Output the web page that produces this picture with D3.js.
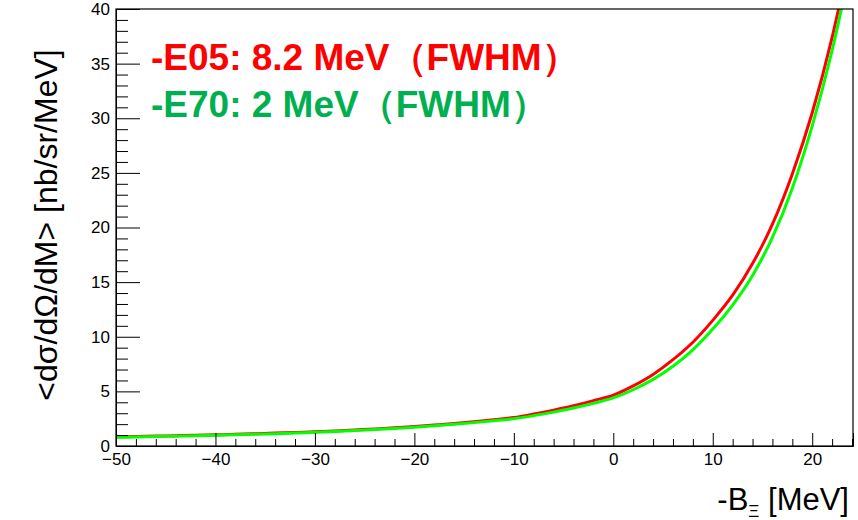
<!DOCTYPE html>
<html>
<head>
<meta charset="utf-8">
<script src="https://cdn.jsdelivr.net/npm/d3@7"></script>
<style>
  html, body { margin: 0; padding: 0; background: #fff; }
  svg { display: block; }
</style>
</head>
<body>
<svg id="chart" width="858" height="520"></svg>
<script>
// ---- data ----
const energies = [-50,-48,-46,-44,-42,-40,-38,-36,-34,-32,-30,-28,-26,-24,-22,-20,-18,-16,-14,-12,-10,-8,-6,-4,-2,0,2,4,6,8,10,12,14,16,18,20,22,24];
const e05Values = [0.84,0.87,0.91,0.94,0.98,1.02,1.07,1.12,1.18,1.24,1.30,1.38,1.47,1.56,1.67,1.78,1.92,2.06,2.22,2.40,2.60,2.92,3.28,3.68,4.15,4.65,5.50,6.55,7.90,9.50,11.50,13.80,16.70,20.30,24.90,30.50,37.40,45.8];
const e70Values = [0.80,0.83,0.87,0.90,0.94,0.98,1.03,1.08,1.13,1.19,1.25,1.33,1.42,1.51,1.61,1.72,1.85,1.99,2.14,2.31,2.50,2.78,3.10,3.48,3.90,4.40,5.15,6.10,7.30,8.80,10.70,12.90,15.60,19.10,23.60,29.30,36.20,44.6];
const xMajorTicks = [-50,-40,-30,-20,-10,0,10,20];
const yMajorTicks = [0,5,10,15,20,25,30,35,40];
const legendLabels = ["-E05: 8.2 MeV（FWHM）", "-E70: 2 MeV（FWHM）"];
const xTitle = "-B";
const xTitleSub = "Ξ";
const xTitleUnit = " [MeV]";
const yTitle = "<dσ/dΩ/dM> [nb/sr/MeV]";

// ---- layout ----
const L = 116, R = 853, T = 9, B = 446;
const svg = d3.select("#chart");
const x = d3.scaleLinear().domain([-50, 24.1]).range([L, R]);
const y = d3.scaleLinear().domain([0, 40]).range([B, T]);

const fontAxis = "'Liberation Sans', Arial, Helvetica, sans-serif";

// clip
svg.append("defs").append("clipPath").attr("id", "plotclip")
  .append("rect").attr("x", L).attr("y", T).attr("width", R - L).attr("height", B - T);

// curves
const line = d3.line().x((d, i) => x(energies[i])).y(d => y(d)).curve(d3.curveMonotoneX);
const g = svg.append("g").attr("clip-path", "url(#plotclip)");
g.append("path").datum(e05Values).attr("d", line)
  .attr("fill", "none").attr("stroke", "#ff0000").attr("stroke-width", 3);
g.append("path").datum(e70Values).attr("d", line)
  .attr("fill", "none").attr("stroke", "#00ff00").attr("stroke-width", 3);

// frame
svg.append("rect").attr("x", L).attr("y", T).attr("width", R - L).attr("height", B - T)
  .attr("fill", "none").attr("stroke", "#000").attr("stroke-width", 1.2);

// x axis minor
const xMinor = d3.range(-48, 24.1, 2).filter(v => v % 10 !== 0);
svg.append("g").attr("transform", `translate(0,${B})`)
  .call(d3.axisBottom(x).tickValues(xMinor).tickSize(-7).tickFormat(""))
  .call(a => a.select(".domain").remove())
  .selectAll("line").attr("stroke", "#000");
// x axis major
const xa = svg.append("g").attr("transform", `translate(0,${B})`)
  .call(d3.axisBottom(x).tickValues(xMajorTicks).tickSize(-13).tickPadding(7));
xa.select(".domain").attr("stroke", "#000");
xa.selectAll("line").attr("stroke", "#000");
xa.selectAll("text").attr("font-family", fontAxis).attr("font-size", 17).attr("fill", "#000");

// y axis minor
const yMinor = d3.range(1, 40, 1).filter(v => v % 5 !== 0);
svg.append("g").attr("transform", `translate(${L},0)`)
  .call(d3.axisLeft(y).tickValues(yMinor).tickSize(-12).tickFormat(""))
  .call(a => a.select(".domain").remove())
  .selectAll("line").attr("stroke", "#000");
// y axis major
const ya = svg.append("g").attr("transform", `translate(${L},0)`)
  .call(d3.axisLeft(y).tickValues(yMajorTicks).tickSize(-24).tickPadding(6));
ya.select(".domain").attr("stroke", "#000");
ya.selectAll("line").attr("stroke", "#000");
ya.selectAll("text").attr("font-family", fontAxis).attr("font-size", 17).attr("fill", "#000");

// x title
const xt = svg.append("text").attr("x", 849).attr("y", 510).attr("text-anchor", "end")
  .attr("font-family", fontAxis).attr("font-size", 31).attr("fill", "#000");
xt.append("tspan").text(xTitle);
xt.append("tspan").attr("font-size", 17).attr("dy", 7).text(xTitleSub);
xt.append("tspan").attr("dy", -7).text(xTitleUnit);

// y title
svg.append("text").attr("transform", "translate(57,225) rotate(-90)")
  .attr("text-anchor", "middle")
  .attr("font-family", fontAxis).attr("font-size", 32).attr("fill", "#000")
  .text(yTitle);

// legend texts
const legendColors = ["#ff0000", "#00b050"];
svg.selectAll(".leg").data(legendLabels).enter().append("text")
  .attr("x", 151).attr("y", (d, i) => 70 + i * 47)
  .attr("font-family", "'Liberation Sans', Arial, sans-serif")
  .attr("font-weight", "bold").attr("font-size", 37)
  .attr("fill", (d, i) => legendColors[i])
  .text(d => d);
</script>
</body>
</html>
